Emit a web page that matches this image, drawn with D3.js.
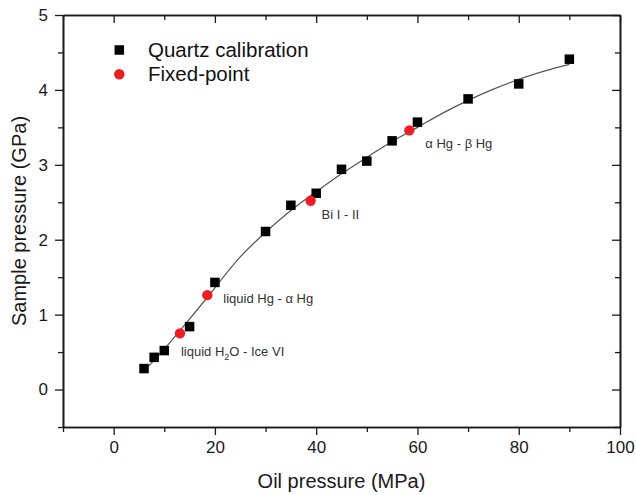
<!DOCTYPE html>
<html>
<head>
<meta charset="utf-8">
<script src="https://cdn.jsdelivr.net/npm/d3@7"></script>
<style>
  html, body { margin: 0; padding: 0; background: #fff; }
  svg { display: block; font-family: "Liberation Sans", Arial, Helvetica, sans-serif; }
</style>
</head>
<body>
<svg id="chart" width="636" height="495"></svg>
<script>
// Quartz gauge calibration: oil pressure (MPa) vs sample pressure (GPa)
const quartzOil    = [6, 8, 10, 15, 20, 30, 35, 40, 45, 50, 55, 60, 70, 80, 90];
const quartzSample = [0.28, 0.43, 0.52, 0.84, 1.43, 2.11, 2.46, 2.62, 2.94, 3.05, 3.32, 3.57, 3.88, 4.08, 4.41];

// Fixed-point transitions
const fixedOil    = [13.1, 18.5, 38.9, 58.4];
const fixedSample = [0.75, 1.26, 2.52, 3.46];
const fixedNames  = ["liquid H2O - Ice VI", "liquid Hg - \u03b1 Hg", "Bi I - II", "\u03b1 Hg - \u03b2 Hg"];

// Calibration fit curve, sampled along its length
const fitOil    = [6, 10, 14, 18.5, 25, 30, 35, 40, 45, 50, 55, 60, 65, 70, 75, 80, 85, 90];
const fitSample = [0.25, 0.54, 0.86, 1.23, 1.77, 2.10, 2.39, 2.64, 2.88, 3.10, 3.31, 3.50, 3.69, 3.86, 4.01, 4.14, 4.25, 4.34];

// Axis ticks
const xTickLabels = [0, 20, 40, 60, 80, 100];
const xMinorTicks = [-10, 10, 30, 50, 70, 90];
const yTickLabels = [0, 1, 2, 3, 4, 5];
const yMinorTicks = [-0.5, 0.5, 1.5, 2.5, 3.5, 4.5];

const legendNames = ["Quartz calibration", "Fixed-point"];

// ---- layout ----
const W = 636, H = 495;
const margin = { left: 63, right: 16, top: 15, bottom: 68 };
const plotW = W - margin.left - margin.right;
const plotH = H - margin.top - margin.bottom;
const frameColor = "#1a1a1a";
const red = "#ee1c24";

const svg = d3.select("#chart");
const g = svg.append("g").attr("transform", `translate(${margin.left},${margin.top})`);

const x = d3.scaleLinear().domain([-10, 100]).range([0, plotW]);
const y = d3.scaleLinear().domain([-0.5, 5]).range([plotH, 0]);

const majorLen = 8, minorLen = 5;

function styleAxis(sel) {
  sel.select(".domain").attr("stroke", frameColor).attr("stroke-width", 1.6);
  sel.selectAll(".tick line").attr("stroke", frameColor).attr("stroke-width", 1.3);
  sel.selectAll(".tick text").attr("fill", "#1a1a1a")
     .style("font-size", "17px")
     .style("font-family", "'Liberation Sans', Arial, sans-serif");
}

// bottom axis (outward ticks)
const xb = g.append("g").attr("transform", `translate(0,${plotH})`)
  .call(d3.axisBottom(x).tickValues(xTickLabels).tickSize(majorLen).tickSizeOuter(0).tickPadding(6).tickFormat(d3.format("d")));
styleAxis(xb);
const xbm = g.append("g").attr("transform", `translate(0,${plotH})`)
  .call(d3.axisBottom(x).tickValues(xMinorTicks).tickSize(minorLen).tickSizeOuter(0).tickFormat(""));
styleAxis(xbm);

// left axis (outward ticks)
const yl = g.append("g")
  .call(d3.axisLeft(y).tickValues(yTickLabels).tickSize(majorLen).tickSizeOuter(0).tickPadding(7).tickFormat(d3.format("d")));
styleAxis(yl);
const ylm = g.append("g")
  .call(d3.axisLeft(y).tickValues(yMinorTicks).tickSize(minorLen).tickSizeOuter(0).tickFormat(""));
styleAxis(ylm);

// top axis (ticks pointing into the plot)
const xt = g.append("g")
  .call(d3.axisTop(x).tickValues(xTickLabels).tickSize(-majorLen).tickSizeOuter(0).tickFormat(""));
styleAxis(xt);
const xtm = g.append("g")
  .call(d3.axisTop(x).tickValues(xMinorTicks).tickSize(-minorLen).tickSizeOuter(0).tickFormat(""));
styleAxis(xtm);

// right axis (ticks pointing into the plot)
const yr = g.append("g").attr("transform", `translate(${plotW},0)`)
  .call(d3.axisRight(y).tickValues(yTickLabels).tickSize(-majorLen).tickSizeOuter(0).tickFormat(""));
styleAxis(yr);
const yrm = g.append("g").attr("transform", `translate(${plotW},0)`)
  .call(d3.axisRight(y).tickValues(yMinorTicks).tickSize(-minorLen).tickSizeOuter(0).tickFormat(""));
styleAxis(yrm);

// axis titles
svg.append("text")
  .attr("x", margin.left + plotW / 2).attr("y", 488)
  .attr("text-anchor", "middle").attr("fill", "#1a1a1a")
  .style("font-size", "20px")
  .text("Oil pressure (MPa)");

svg.append("text")
  .attr("transform", `translate(26,${margin.top + plotH / 2}) rotate(-90)`)
  .attr("text-anchor", "middle").attr("fill", "#1a1a1a")
  .style("font-size", "20px")
  .text("Sample pressure (GPa)");

// fit curve
const fitData = fitOil.map((v, i) => [v, fitSample[i]]);
g.append("path")
  .datum(fitData)
  .attr("fill", "none")
  .attr("stroke", "#555")
  .attr("stroke-width", 1.2)
  .attr("d", d3.line().x(d => x(d[0])).y(d => y(d[1])).curve(d3.curveMonotoneX));

// quartz calibration squares
const sq = 9.5;
g.selectAll("rect.quartz")
  .data(quartzOil.map((v, i) => [v, quartzSample[i]]))
  .join("rect").attr("class", "quartz")
  .attr("x", d => x(d[0]) - sq / 2)
  .attr("y", d => y(d[1]) - sq / 2)
  .attr("width", sq).attr("height", sq)
  .attr("fill", "#000");

// fixed points
const fixedData = fixedOil.map((v, i) => ({ p: v, s: fixedSample[i], name: fixedNames[i] }));
g.selectAll("circle.fixed")
  .data(fixedData)
  .join("circle").attr("class", "fixed")
  .attr("cx", d => x(d.p)).attr("cy", d => y(d.s))
  .attr("r", 5.2)
  .attr("fill", red);

// transition labels, offset from their fixed point
const labelOffsets = [[1, 23], [16, 8], [11, 18], [16, 18]];
const labels = g.selectAll("text.fixedlabel")
  .data(fixedData)
  .join("text").attr("class", "fixedlabel")
  .attr("x", (d, i) => x(d.p) + labelOffsets[i][0])
  .attr("y", (d, i) => y(d.s) + labelOffsets[i][1])
  .attr("fill", "#333")
  .style("font-size", "13px");

labels.each(function (d) {
  const t = d3.select(this);
  if (d.name.includes("H2O")) {
    const parts = d.name.split("H2O");
    t.append("tspan").text(parts[0] + "H");
    t.append("tspan").attr("dy", 4).style("font-size", "9px").text("2");
    t.append("tspan").attr("dy", -4).text("O" + parts[1]);
  } else {
    t.text(d.name);
  }
});

// legend
const legend = svg.append("g");
legend.append("rect")
  .attr("x", 119.3 - sq / 2).attr("y", 50 - sq / 2)
  .attr("width", sq).attr("height", sq).attr("fill", "#000");
legend.append("circle")
  .attr("cx", 119.3).attr("cy", 74.3).attr("r", 5.2).attr("fill", red);
legend.selectAll("text")
  .data(legendNames)
  .join("text")
  .attr("x", 148)
  .attr("y", (d, i) => 56.5 + i * 24.5)
  .attr("fill", "#111")
  .style("font-size", "20.5px")
  .text(d => d);
</script>
</body>
</html>
